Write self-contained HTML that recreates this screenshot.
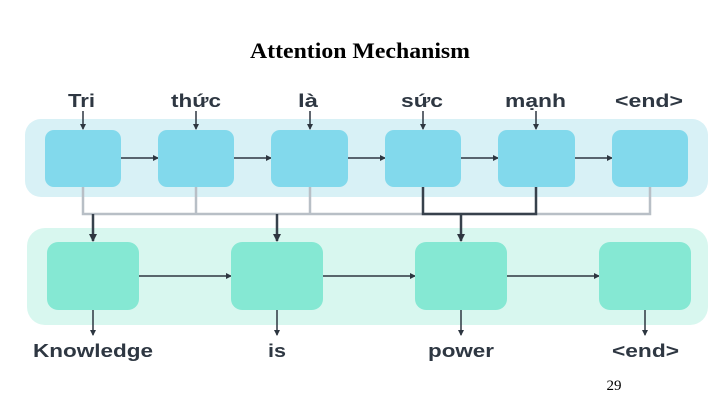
<!DOCTYPE html>
<html><head><meta charset="utf-8"><style>
html,body{margin:0;padding:0;background:#fff;width:720px;height:405px;overflow:hidden}
</style></head><body>
<svg width="720" height="405" xmlns="http://www.w3.org/2000/svg">
<defs>
<marker id="a" markerWidth="6" markerHeight="6" refX="5" refY="3" orient="auto" markerUnits="userSpaceOnUse"><path d="M0,0 L6,3 L0,6 z" fill="#2d3640"/></marker>
<marker id="b" markerWidth="8" markerHeight="8" refX="7" refY="4" orient="auto" markerUnits="userSpaceOnUse"><path d="M0,0 L8,4 L0,8 z" fill="#2d3640"/></marker>
</defs>
<text x="250" y="58" textLength="220" lengthAdjust="spacingAndGlyphs" font-family="Liberation Serif, serif" font-weight="bold" font-size="22">Attention Mechanism</text>
<rect x="25" y="119" width="683" height="78" rx="16" fill="#d8f1f6"/>
<rect x="27" y="228" width="681" height="97" rx="18" fill="#d8f7ef"/>
<g font-family="Liberation Sans, sans-serif" font-weight="bold" font-size="18" fill="#2e3742">
<text x="68" y="107" textLength="27" lengthAdjust="spacingAndGlyphs">Tri</text>
<text x="171" y="107" textLength="50" lengthAdjust="spacingAndGlyphs">thức</text>
<text x="298" y="107" textLength="20" lengthAdjust="spacingAndGlyphs">là</text>
<text x="401" y="107" textLength="42" lengthAdjust="spacingAndGlyphs">sức</text>
<text x="505" y="107" textLength="61" lengthAdjust="spacingAndGlyphs">mạnh</text>
<text x="615" y="107" textLength="68" lengthAdjust="spacingAndGlyphs">&lt;end&gt;</text>
<text x="33" y="357" textLength="120" lengthAdjust="spacingAndGlyphs">Knowledge</text>
<text x="268" y="357" textLength="18" lengthAdjust="spacingAndGlyphs">is</text>
<text x="428" y="357" textLength="66" lengthAdjust="spacingAndGlyphs">power</text>
<text x="612" y="357" textLength="67" lengthAdjust="spacingAndGlyphs">&lt;end&gt;</text>
</g>
<g stroke="#2d3640" stroke-width="1.5" fill="none">
<line x1="83" y1="111" x2="83" y2="129" marker-end="url(#a)"/>
<line x1="196" y1="111" x2="196" y2="129" marker-end="url(#a)"/>
<line x1="310" y1="111" x2="310" y2="129" marker-end="url(#a)"/>
<line x1="423" y1="111" x2="423" y2="129" marker-end="url(#a)"/>
<line x1="536" y1="111" x2="536" y2="129" marker-end="url(#a)"/>
<line x1="121" y1="158" x2="158" y2="158" marker-end="url(#a)"/>
<line x1="234" y1="158" x2="271" y2="158" marker-end="url(#a)"/>
<line x1="348" y1="158" x2="385" y2="158" marker-end="url(#a)"/>
<line x1="461" y1="158" x2="498" y2="158" marker-end="url(#a)"/>
<line x1="575" y1="158" x2="612" y2="158" marker-end="url(#a)"/>
<line x1="139" y1="276" x2="231" y2="276" marker-end="url(#a)"/>
<line x1="323" y1="276" x2="415" y2="276" marker-end="url(#a)"/>
<line x1="507" y1="276" x2="599" y2="276" marker-end="url(#a)"/>
<line x1="93" y1="310" x2="93" y2="335" marker-end="url(#a)"/>
<line x1="277" y1="310" x2="277" y2="335" marker-end="url(#a)"/>
<line x1="461" y1="310" x2="461" y2="335" marker-end="url(#a)"/>
<line x1="645" y1="310" x2="645" y2="335" marker-end="url(#a)"/>
</g>
<g stroke="#b8bfc6" stroke-width="2.5" fill="none">
<polyline points="83,187 83,214 650,214 650,187"/>
<line x1="196" y1="187" x2="196" y2="214"/>
<line x1="310" y1="187" x2="310" y2="214"/>
</g>
<g stroke="#37414c" stroke-width="2.5" fill="none">
<polyline points="423,187 423,214 536,214 536,187"/>
<line x1="461" y1="214" x2="461" y2="241" marker-end="url(#b)"/>
<line x1="93" y1="214" x2="93" y2="241" marker-end="url(#b)"/>
<line x1="277" y1="214" x2="277" y2="241" marker-end="url(#b)"/>
</g>
<g fill="#82d9ec">
<rect x="45" y="130" width="76" height="57" rx="9"/><rect x="158" y="130" width="76" height="57" rx="9"/>
<rect x="271" y="130" width="77" height="57" rx="9"/><rect x="385" y="130" width="76" height="57" rx="9"/>
<rect x="498" y="130" width="77" height="57" rx="9"/><rect x="612" y="130" width="76" height="57" rx="9"/>
</g>
<g fill="#85e8d3">
<rect x="47" y="242" width="92" height="68" rx="11"/><rect x="231" y="242" width="92" height="68" rx="11"/>
<rect x="415" y="242" width="92" height="68" rx="11"/><rect x="599" y="242" width="92" height="68" rx="11"/>
</g>
<text x="614" y="390" text-anchor="middle" font-family="Liberation Serif, serif" font-size="15">29</text>
</svg>
</body></html>
